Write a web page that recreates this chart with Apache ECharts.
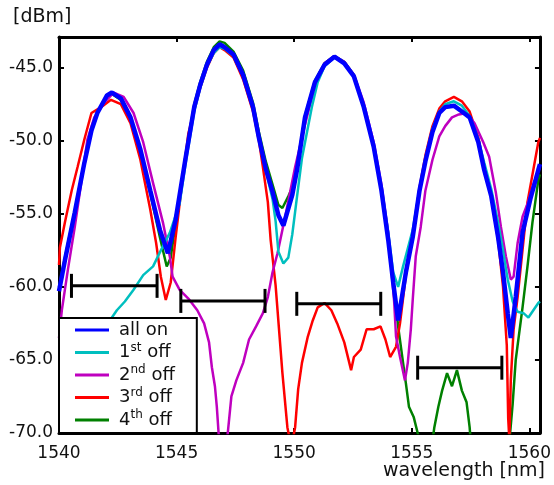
<!DOCTYPE html>
<html>
<head>
<meta charset="utf-8">
<script src="https://cdn.jsdelivr.net/npm/echarts@6/dist/echarts.min.js"></script>
<style>
  html, body { margin: 0; padding: 0; background: #fff; }
  #chart { width: 554px; height: 485px; }
</style>
</head>
<body>
<div id="chart"></div>
<script>
// spectra: [wavelength nm, power dBm]
const allOn = [[1540.00,-60.3],[1540.25,-58.2],[1540.67,-54.9],[1541.08,-51.5],[1541.38,-49.3],[1541.63,-48.1],[1542.04,-46.9],[1542.25,-46.7],[1542.63,-47.1],[1543.04,-48.4],[1543.46,-50.6],[1543.88,-53.4],[1544.29,-56.1],[1544.63,-57.7],[1544.96,-55.4],[1545.38,-51.2],[1545.75,-47.7],[1546.00,-46.2],[1546.29,-44.8],[1546.58,-43.8],[1546.83,-43.4],[1547.04,-43.6],[1547.42,-44.1],[1547.83,-45.5],[1548.25,-47.7],[1548.50,-49.8],[1548.79,-51.9],[1549.08,-53.5],[1549.33,-55.1],[1549.54,-55.8],[1549.92,-53.7],[1550.13,-51.9],[1550.46,-48.4],[1550.88,-46.0],[1551.29,-44.8],[1551.71,-44.25],[1552.13,-44.7],[1552.54,-45.6],[1552.96,-47.7],[1553.38,-50.4],[1553.71,-53.4],[1554.00,-56.8],[1554.21,-59.7],[1554.42,-62.3],[1554.75,-59.0],[1555.04,-56.6],[1555.33,-53.4],[1555.58,-51.4],[1555.88,-49.4],[1556.17,-48.1],[1556.42,-47.7],[1556.79,-47.6],[1557.13,-48.0],[1557.46,-48.4],[1557.83,-50.1],[1558.08,-52.0],[1558.38,-53.8],[1558.67,-56.6],[1558.88,-59.0],[1559.08,-61.8],[1559.21,-63.5],[1559.42,-60.7],[1559.71,-56.3],[1560.04,-54.0],[1560.38,-52.0],[1560.45,-51.6]];

const firstOff = [[1540.00,-67.5],[1540.80,-66.0],[1541.60,-63.8],[1542.25,-62.1],[1542.46,-61.6],[1542.80,-61.0],[1543.17,-60.2],[1543.58,-59.2],[1544.00,-58.6],[1544.33,-57.5],[1544.71,-56.3],[1545.13,-54.3],[1545.38,-51.6],[1545.75,-48.0],[1546.00,-46.4],[1546.29,-44.9],[1546.58,-44.0],[1546.83,-43.6],[1547.04,-43.7],[1547.42,-44.2],[1547.83,-45.6],[1548.25,-47.8],[1548.50,-49.9],[1548.79,-52.0],[1549.08,-54.0],[1549.21,-55.5],[1549.33,-57.6],[1549.54,-58.4],[1549.75,-58.0],[1549.92,-56.4],[1550.13,-53.7],[1550.33,-51.2],[1550.75,-47.7],[1551.00,-46.0],[1551.29,-44.9],[1551.71,-44.3],[1552.13,-44.7],[1552.54,-45.6],[1552.96,-47.6],[1553.38,-50.3],[1553.71,-53.2],[1554.00,-56.3],[1554.21,-59.0],[1554.42,-60.0],[1554.63,-58.6],[1555.04,-56.1],[1555.33,-53.3],[1555.58,-51.2],[1555.88,-49.2],[1556.17,-48.0],[1556.42,-47.5],[1556.79,-47.3],[1557.13,-47.6],[1557.46,-48.3],[1557.83,-49.9],[1558.08,-51.5],[1558.38,-53.3],[1558.67,-55.6],[1558.88,-57.5],[1559.08,-59.5],[1559.29,-61.0],[1559.50,-61.7],[1559.75,-61.8],[1559.96,-62.1],[1560.17,-61.6],[1560.38,-61.1],[1560.45,-61.0]];

const secondOff = [[1540.00,-63.5],[1540.12,-61.6],[1540.38,-58.8],[1540.67,-55.9],[1540.96,-52.7],[1541.21,-49.9],[1541.50,-48.4],[1541.92,-47.4],[1542.33,-46.7],[1542.75,-47.0],[1543.17,-48.1],[1543.58,-50.1],[1544.00,-52.9],[1544.42,-55.6],[1544.71,-57.9],[1544.83,-59.3],[1545.13,-60.2],[1545.50,-60.8],[1545.88,-61.6],[1546.17,-62.5],[1546.38,-63.8],[1546.50,-65.5],[1546.63,-66.8],[1546.71,-68.2],[1546.79,-70.1],[1546.90,-71.5],[1547.10,-71.5],[1547.17,-70.1],[1547.33,-67.5],[1547.54,-66.4],[1547.83,-65.2],[1548.08,-63.6],[1548.38,-62.7],[1548.67,-61.8],[1548.88,-60.7],[1549.08,-59.0],[1549.29,-57.7],[1549.63,-55.1],[1550.04,-51.8],[1550.46,-48.9],[1550.88,-46.2],[1551.29,-44.7],[1551.71,-44.2],[1552.13,-44.6],[1552.54,-45.5],[1552.96,-47.4],[1553.38,-50.1],[1553.71,-53.0],[1554.00,-56.3],[1554.25,-61.0],[1554.33,-63.4],[1554.50,-64.8],[1554.71,-66.4],[1554.83,-65.2],[1554.96,-62.9],[1555.04,-60.9],[1555.17,-57.9],[1555.38,-55.9],[1555.58,-53.4],[1555.88,-51.3],[1556.17,-49.7],[1556.42,-49.0],[1556.71,-48.4],[1557.00,-48.2],[1557.33,-48.1],[1557.67,-48.8],[1558.04,-50.1],[1558.29,-51.1],[1558.58,-53.6],[1558.79,-55.9],[1559.00,-57.9],[1559.21,-59.5],[1559.33,-59.3],[1559.50,-57.0],[1559.71,-55.2],[1559.92,-54.3],[1560.17,-53.0],[1560.45,-51.8]];

const thirdOff = [[1540.00,-58.5],[1540.04,-57.3],[1540.25,-55.6],[1540.54,-53.4],[1540.79,-51.8],[1541.08,-49.9],[1541.38,-48.1],[1541.79,-47.7],[1542.21,-47.2],[1542.63,-47.5],[1543.04,-48.8],[1543.46,-51.3],[1543.88,-54.7],[1544.13,-57.0],[1544.33,-59.3],[1544.54,-60.9],[1544.75,-59.7],[1544.96,-56.6],[1545.25,-52.7],[1545.50,-49.5],[1545.75,-47.9],[1546.00,-46.4],[1546.29,-45.0],[1546.58,-44.0],[1546.83,-43.6],[1547.04,-43.8],[1547.42,-44.3],[1547.83,-45.8],[1548.25,-48.0],[1548.50,-50.0],[1548.67,-51.8],[1548.88,-54.2],[1549.00,-56.8],[1549.21,-59.9],[1549.50,-65.9],[1549.71,-69.6],[1549.88,-71.0],[1550.04,-69.6],[1550.17,-67.0],[1550.33,-65.2],[1550.58,-63.4],[1550.79,-62.3],[1551.00,-61.4],[1551.29,-61.1],[1551.58,-61.6],[1551.83,-62.5],[1552.13,-63.8],[1552.42,-65.7],[1552.54,-64.8],[1552.83,-64.3],[1553.08,-62.9],[1553.38,-62.9],[1553.67,-62.7],[1553.88,-63.6],[1554.08,-64.8],[1554.33,-64.1],[1554.50,-62.5],[1554.75,-59.2],[1555.04,-56.5],[1555.33,-53.2],[1555.58,-51.0],[1555.88,-49.0],[1556.17,-47.8],[1556.42,-47.3],[1556.79,-47.0],[1557.13,-47.3],[1557.46,-48.0],[1557.83,-49.8],[1558.08,-51.8],[1558.38,-53.8],[1558.67,-56.8],[1558.88,-60.0],[1559.04,-64.0],[1559.10,-69.0],[1559.15,-70.5],[1559.21,-66.4],[1559.33,-62.9],[1559.50,-60.7],[1559.92,-54.2],[1560.38,-50.1],[1560.45,-49.8]];

const fourthOff = [[1540.00,-60.0],[1540.25,-58.0],[1540.67,-54.8],[1541.08,-51.4],[1541.38,-49.2],[1541.63,-48.0],[1542.04,-46.9],[1542.25,-46.8],[1542.63,-47.2],[1543.04,-48.5],[1543.46,-50.8],[1543.88,-53.6],[1544.29,-56.6],[1544.58,-58.6],[1544.75,-58.0],[1544.96,-55.6],[1545.38,-51.0],[1545.75,-47.5],[1546.00,-46.0],[1546.29,-44.6],[1546.58,-43.6],[1546.83,-43.2],[1547.04,-43.3],[1547.42,-43.9],[1547.83,-45.2],[1548.25,-47.4],[1548.50,-49.4],[1548.79,-51.4],[1549.08,-53.0],[1549.33,-54.4],[1549.50,-54.6],[1549.75,-53.8],[1549.92,-53.2],[1550.13,-51.6],[1550.46,-48.3],[1550.88,-45.9],[1551.29,-44.7],[1551.71,-44.2],[1552.13,-44.6],[1552.54,-45.5],[1552.96,-47.6],[1553.38,-50.3],[1553.71,-53.3],[1554.00,-56.7],[1554.21,-59.6],[1554.42,-62.7],[1554.63,-65.2],[1554.75,-66.6],[1554.88,-68.2],[1555.08,-68.9],[1555.25,-70.0],[1555.50,-71.5],[1555.80,-71.5],[1555.96,-69.6],[1556.13,-68.2],[1556.29,-67.1],[1556.50,-65.9],[1556.71,-66.8],[1556.92,-65.7],[1557.13,-67.1],[1557.33,-67.9],[1557.46,-69.6],[1557.55,-71.5],[1559.10,-71.5],[1559.29,-68.0],[1559.42,-65.0],[1559.71,-61.4],[1559.92,-58.6],[1560.13,-55.6],[1560.38,-52.7],[1560.45,-52.3]];

// channel intervals (horizontal bars)
const barStart = [1540.53, 1545.18, 1550.11, 1555.25];
const barEnd = [1544.17, 1548.76, 1553.68, 1558.83];
const barLevel = [-59.93, -60.96, -61.16, -65.53];

const seriesNames = ['all on', '1st off', '2nd off', '3rd off', '4th off'];
const seriesColors = ['#0000ff', '#00bfbf', '#bf00bf', '#ff0000', '#008000'];
const seriesData = [allOn, firstOff, secondOff, thirdOff, fourthOff];

const font = 'DejaVu Sans';
const chart = echarts.init(document.getElementById('chart'));

function lineSeries(i, width) {
    return {
        name: seriesNames[i],
        type: 'line',
        data: seriesData[i],
        symbol: 'none',
        color: seriesColors[i],
        lineStyle: { color: seriesColors[i], width: width },
        clip: true,
        z: 2
    };
}

const barData = barStart.map((s, i) => [s, barEnd[i], barLevel[i]]);

const frameAxis = {
    type: 'value',
    axisLine: { show: true, onZero: false, lineStyle: { color: '#000', width: 3 } },
    axisTick: { show: true, inside: true, length: 5, lineStyle: { color: '#000', width: 2 } },
    splitLine: { show: false }
};

const option = {
    animation: false,
    backgroundColor: '#fff',
    textStyle: { fontFamily: font },
    grid: { left: 59, right: 5, top: 37, bottom: 52 },
    xAxis: [
        Object.assign({}, frameAxis, {
            position: 'bottom', min: 1540, max: 1560.45, interval: 5,
            axisLabel: {
                fontFamily: font, fontSize: 17, color: '#111', margin: 12,
                formatter: v => Number.isInteger(v / 5) ? String(v) : ''
            }
        }),
        Object.assign({}, frameAxis, {
            position: 'top', min: 1540, max: 1560.45, interval: 5,
            axisLabel: { show: false }
        })
    ],
    yAxis: [
        Object.assign({}, frameAxis, {
            position: 'left', min: -70, max: -42.9, interval: 5,
            axisLabel: {
                fontFamily: font, fontSize: 17, color: '#111', margin: 6,
                formatter: v => Number.isInteger(v / 5) ? v.toFixed(1) : ''
            }
        }),
        Object.assign({}, frameAxis, {
            position: 'right', min: -70, max: -42.9, interval: 5,
            axisLabel: { show: false }
        })
    ],
    legend: {
        orient: 'vertical',
        left: 59,
        top: 318,
        padding: [1, 22, 2, 16],
        itemGap: 0.5,
        itemWidth: 34,
        itemHeight: 3,
        icon: 'rect',
        backgroundColor: '#fff',
        borderColor: '#000',
        borderWidth: 2,
        borderRadius: 0,
        z: 10,
        data: seriesNames,
        formatter: name => name.replace(/^(\d)(st|nd|rd|th)/, '$1{sup|$2}'),
        textStyle: {
            fontFamily: font, fontSize: 18, color: '#111', lineHeight: 22,
            padding: [0, 0, 0, 5],
            rich: {
                sup: { fontFamily: font, fontSize: 12, color: '#111', verticalAlign: 'top' }
            }
        }
    },
    graphic: [
        { type: 'text', left: 13, top: 8, style: { text: '[dBm]', font: '19px "DejaVu Sans"', fill: '#111' } },
        { type: 'text', right: 9, top: 462, style: { text: 'wavelength [nm]', font: '19px "DejaVu Sans"', fill: '#111' } }
    ],
    series: [
        lineSeries(4, 2.5),
        lineSeries(3, 2.5),
        lineSeries(2, 2.5),
        lineSeries(1, 2.5),
        lineSeries(0, 4.5),
        {
            type: 'custom',
            name: 'intervals',
            data: barData,
            encode: { x: [0, 1], y: 2 },
            z: 3,
            renderItem: (params, api) => {
                const a = api.coord([api.value(0), api.value(2)]);
                const b = api.coord([api.value(1), api.value(2)]);
                const h = 12;
                const st = { stroke: '#000', lineWidth: 3 };
                return {
                    type: 'group',
                    children: [
                        { type: 'line', shape: { x1: a[0], y1: a[1], x2: b[0], y2: b[1] }, style: st },
                        { type: 'line', shape: { x1: a[0], y1: a[1] - h, x2: a[0], y2: a[1] + h }, style: st },
                        { type: 'line', shape: { x1: b[0], y1: b[1] - h, x2: b[0], y2: b[1] + h }, style: st }
                    ]
                };
            }
        }
    ]
};

chart.setOption(option);
</script>
</body>
</html>
